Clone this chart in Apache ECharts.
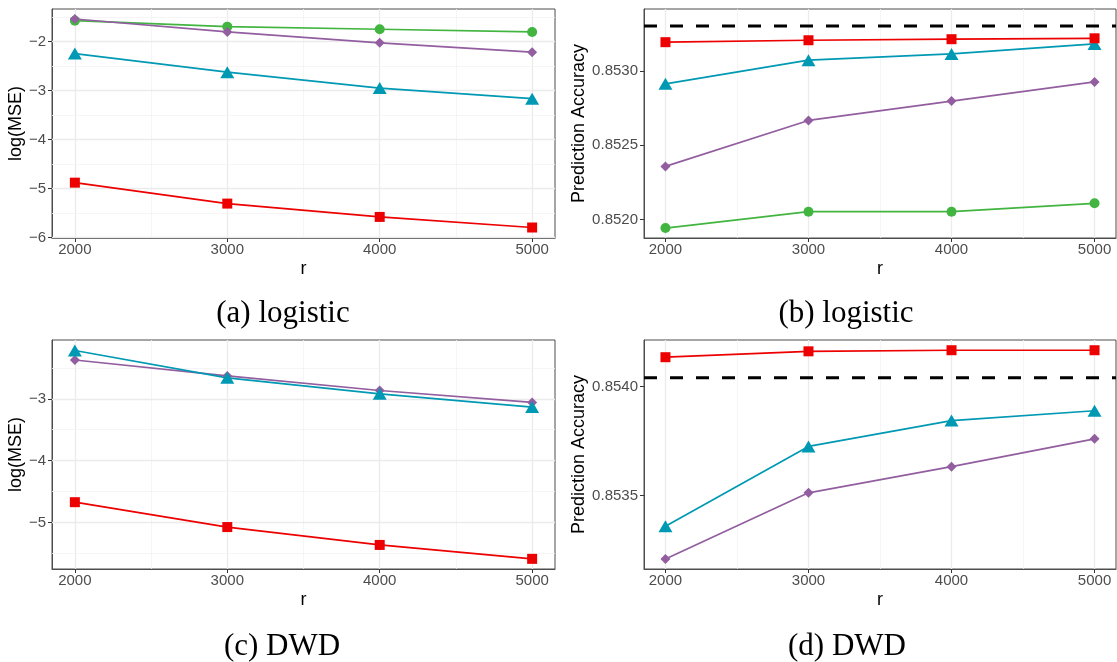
<!DOCTYPE html>
<html>
<head>
<meta charset="utf-8">
<script src="https://cdn.jsdelivr.net/npm/echarts@6/dist/echarts.min.js"></script>
<style>
html,body{margin:0;padding:0;background:#fff;}
#chart{width:1117px;height:662px;}
</style>
</head>
<body>
<div id="chart"></div>
<script>
// ---------- data ----------
const rValues = [2000, 3000, 4000, 5000];
const xTicks = [2000, 3000, 4000, 5000];
const xMinorTicks = [2500, 3500, 4500];

// (a) logistic, log(MSE)
const logisticMseSquare   = [-4.878, -5.305, -5.577, -5.793];
const logisticMseTriangle = [-2.245, -2.623, -2.948, -3.165];
const logisticMseDiamond  = [-1.539, -1.803, -2.026, -2.216];
const logisticMseCircle   = [-1.573, -1.695, -1.748, -1.803];
const mseTicksA = [-6, -5, -4, -3, -2];
const mseMinorA = [-5.5, -4.5, -3.5, -2.5, -1.5];

// (b) logistic, prediction accuracy
const logisticAccSquare   = [0.853193, 0.853206, 0.853213, 0.853219];
const logisticAccTriangle = [0.852913, 0.853072, 0.853114, 0.853181];
const logisticAccDiamond  = [0.852358, 0.852667, 0.852797, 0.852926];
const logisticAccCircle   = [0.851944, 0.852054, 0.852054, 0.852110];
const logisticAccFull = 0.853302;
const accTicksB = [0.8520, 0.8525, 0.8530];
const accMinorB = [0.85225, 0.85275, 0.85325];

// (c) DWD, log(MSE)
const dwdMseSquare   = [-4.672, -5.074, -5.363, -5.588];
const dwdMseTriangle = [-2.220, -2.662, -2.920, -3.135];
const dwdMseDiamond  = [-2.373, -2.630, -2.866, -3.059];
const mseTicksC = [-5, -4, -3];
const mseMinorC = [-5.5, -4.5, -3.5, -2.5];

// (d) DWD, prediction accuracy
const dwdAccSquare   = [0.854135, 0.854162, 0.854167, 0.854167];
const dwdAccTriangle = [0.853358, 0.853725, 0.853844, 0.853889];
const dwdAccDiamond  = [0.853208, 0.853512, 0.853632, 0.853760];
const dwdAccFull = 0.854041;
const accTicksD = [0.8535, 0.8540];
const accMinorD = [0.85325, 0.85375];

const captions = ['(a) logistic', '(b) logistic', '(c) DWD', '(d) DWD'];

// ---------- styling ----------
const COL = {square:'#ED0000', triangle:'#0099B4', diamond:'#925E9F', circle:'#42B540'};
const SYM = {
  square:  {symbol:'rect', size:10},
  triangle:{symbol:'triangle', size:[14,12]},
  diamond: {symbol:'diamond', size:[10,10]},
  circle:  {symbol:'circle', size:10}
};
const FONT = 'Liberation Sans';
const minus = v => String(v).replace('-', '\u2212');

const grids = [
  {left:52,  top:9,   width:503, height:229},
  {left:644, top:9,   width:472, height:229},
  {left:52,  top:340, width:503, height:229},
  {left:644, top:340, width:472, height:229}
];
const yRanges = [
  [-6.007, -1.335],
  [0.851877, 0.853416],
  [-5.752, -2.05],
  [0.853162, 0.854214]
];
const yTickSets = [mseTicksA, accTicksB, mseTicksC, accTicksD];
const yMinorSets = [mseMinorA, accMinorB, mseMinorC, accMinorD];
const yNames = ['log(MSE)', 'Prediction Accuracy', 'log(MSE)', 'Prediction Accuracy'];
const yFormat = [v => minus(Math.round(v)), v => v.toFixed(4), v => minus(Math.round(v)), v => v.toFixed(4)];
const yGaps = [19, 50, 19, 50];

const xSpan = xTicks[xTicks.length-1] - xTicks[0];
const xMin = xTicks[0] - 0.05*xSpan, xMax = xTicks[xTicks.length-1] + 0.05*xSpan;

const xAxes = grids.map((g,i) => ({
  type:'value', gridIndex:i, min:xMin, max:xMax,
  splitLine:{show:false},
  axisLine:{show:true, onZero:false, lineStyle:{color:'#4d4d4d', width:1}},
  axisTick:{show:true, length:4, customValues:xTicks, lineStyle:{color:'#333333', width:1}},
  axisLabel:{show:true, customValues:xTicks, color:'#4d4d4d', fontSize:15, fontFamily:FONT, margin:4, formatter:v=>String(v)},
  name:'r', nameLocation:'middle', nameGap:22,
  nameTextStyle:{color:'#000', fontSize:18, fontFamily:FONT}
}));
const yAxes = grids.map((g,i) => ({
  type:'value', gridIndex:i, min:yRanges[i][0], max:yRanges[i][1],
  splitLine:{show:false},
  axisLine:{show:true, onZero:false, lineStyle:{color:'#4d4d4d', width:1}},
  axisTick:{show:true, length:4, customValues:yTickSets[i], lineStyle:{color:'#333333', width:1}},
  axisLabel:{show:true, customValues:yTickSets[i], color:'#4d4d4d', fontSize:15, fontFamily:FONT, margin:6, formatter:yFormat[i]},
  name:yNames[i], nameLocation:'middle', nameGap:yGaps[i],
  nameTextStyle:{color:'#000', fontSize:18, fontFamily:FONT}
}));

function gridSeries(i, anchor){
  const major = {color:'#EBEBEB', width:1.3, type:'solid'};
  const minor = {color:'#F2F2F2', width:0.8, type:'solid'};
  const d = [];
  xTicks.forEach(v => d.push({xAxis:v, lineStyle:major}));
  xMinorTicks.forEach(v => d.push({xAxis:v, lineStyle:minor}));
  yTickSets[i].forEach(v => d.push({yAxis:v, lineStyle:major}));
  yMinorSets[i].forEach(v => d.push({yAxis:v, lineStyle:minor}));
  return {
    type:'line', xAxisIndex:i, yAxisIndex:i, z:1, silent:true,
    data: rValues.map((x,k)=>[x, anchor[k]]),
    showSymbol:false, lineStyle:{opacity:0},
    markLine:{silent:true, z:1, symbol:['none','none'], label:{show:false}, animation:false, data:d}
  };
}
function hlineSeries(i, value){
  return {
    type:'line', xAxisIndex:i, yAxisIndex:i, z:4, silent:true,
    data: [[xMin, value], [xMax, value]],
    showSymbol:false, symbol:'none',
    lineStyle:{color:'#000', width:3, type:[13,13]}
  };
}
function dataSeries(i, kind, values){
  return {
    type:'line', xAxisIndex:i, yAxisIndex:i, z:3,
    data: rValues.map((x,k)=>[x, values[k]]),
    symbol:SYM[kind].symbol, symbolSize:SYM[kind].size, showSymbol:true,
    lineStyle:{color:COL[kind], width:1.7},
    itemStyle:{color:COL[kind], borderWidth:0}
  };
}

const series = [
  gridSeries(0, logisticMseSquare), gridSeries(1, logisticAccSquare),
  gridSeries(2, dwdMseSquare), gridSeries(3, dwdAccSquare),
  dataSeries(0,'circle',logisticMseCircle), dataSeries(0,'diamond',logisticMseDiamond),
  dataSeries(0,'triangle',logisticMseTriangle), dataSeries(0,'square',logisticMseSquare),
  dataSeries(1,'circle',logisticAccCircle), dataSeries(1,'diamond',logisticAccDiamond),
  dataSeries(1,'triangle',logisticAccTriangle), dataSeries(1,'square',logisticAccSquare),
  hlineSeries(1, logisticAccFull),
  dataSeries(2,'diamond',dwdMseDiamond), dataSeries(2,'triangle',dwdMseTriangle),
  dataSeries(2,'square',dwdMseSquare),
  dataSeries(3,'diamond',dwdAccDiamond), dataSeries(3,'triangle',dwdAccTriangle),
  dataSeries(3,'square',dwdAccSquare),
  hlineSeries(3, dwdAccFull)
];

const capPos = [[283,314],[846,314],[282,647],[847,647]];
const graphic = captions.map((t,i)=>({
  type:'text', x:capPos[i][0], y:capPos[i][1],
  style:{text:t, fill:'#000', font:'31px "Liberation Serif"', textAlign:'center', textVerticalAlign:'middle'}
}));

const chart = echarts.init(document.getElementById('chart'), null, {renderer:'canvas'});
chart.setOption({
  animation:false,
  backgroundColor:'#fff',
  grid: grids.map(g=>Object.assign({show:true, backgroundColor:'#fff', borderColor:'#4d4d4d', borderWidth:1, containLabel:false}, g)),
  xAxis: xAxes,
  yAxis: yAxes,
  series: series,
  graphic: graphic
});
</script>
</body>
</html>
